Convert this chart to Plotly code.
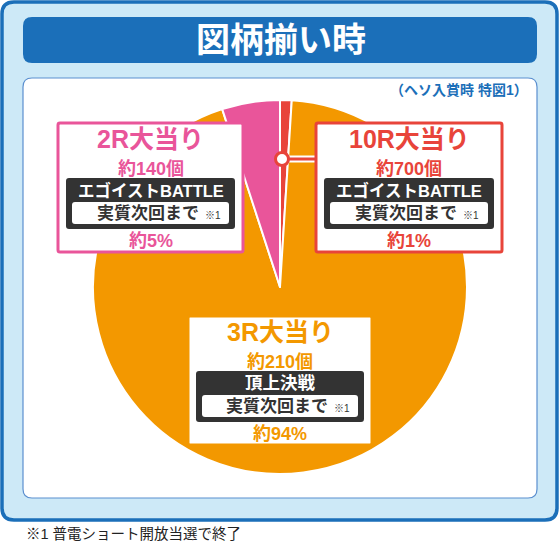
import plotly.graph_objects as go

# ---- data ----
labels = ["10R大当り", "3R大当り", "2R大当り"]
values = [1, 94, 5]
colors = ["#e8443a", "#f39800", "#e9559a"]

W, H = 560, 543
FONT = "Liberation Sans, Noto Sans CJK JP"

def px(x):
    return x / W

def py(y):
    return 1 - y / H

def rrect(x0, y0, x1, y1, r):
    pts = [
        ("M", [(x0 + r, y0)]),
        ("L", [(x1 - r, y0)]),
        ("Q", [(x1, y0), (x1, y0 + r)]),
        ("L", [(x1, y1 - r)]),
        ("Q", [(x1, y1), (x1 - r, y1)]),
        ("L", [(x0 + r, y1)]),
        ("Q", [(x0, y1), (x0, y1 - r)]),
        ("L", [(x0, y0 + r)]),
        ("Q", [(x0, y0), (x0 + r, y0)]),
    ]
    s = ""
    for cmd, ps in pts:
        s += cmd + " " + " ".join(f"{px(a):.5f},{py(b):.5f}" for a, b in ps) + " "
    return s + "Z"

shapes = []
annotations = []

def add_rrect(x0, y0, x1, y1, r, fill, line=None, lw=0, layer="above"):
    shapes.append(dict(type="path", path=rrect(x0, y0, x1, y1, r), xref="paper", yref="paper",
                       fillcolor=fill, line=dict(color=line or fill, width=lw), layer=layer))

def text(x, y, t, size, color, xanchor="center", bold=True):
    annotations.append(dict(x=px(x), y=py(y), xref="paper", yref="paper", text=t,
                            showarrow=False, xanchor=xanchor, yanchor="middle",
                            font=dict(family=FONT, size=size, color=color,
                                      weight="bold" if bold else "normal")))

# background frame
add_rrect(2, 2, 557, 520, 12, "#cde9f7", "#1b6fb9", 3.5, layer="below")
# title bar
add_rrect(23, 17, 537, 63, 9, "#1b6fb9", layer="below")
text(281, 40, "図柄揃い時", 34, "#ffffff")
# white card
add_rrect(23, 78, 537, 498, 9, "#ffffff", "#5b8fcf", 1.2, layer="below")
text(530, 90, "（ヘソ入賞時 特図1）", 14, "#1b6fb9", xanchor="right")
# footnote
text(24, 534, "※1 普電ショート開放当選で終了", 14.5, "#222222", xanchor="left", bold=False)

# pie
cx, cy, R = 280, 287, 187
fig = go.Figure(go.Pie(
    labels=labels, values=values, sort=False, direction="clockwise", rotation=0,
    marker=dict(colors=colors, line=dict(color="#ffffff", width=2)),
    textinfo="none", hoverinfo="label+percent", showlegend=False,
    domain=dict(x=[px(cx - R), px(cx + R)], y=[py(cy + R), py(cy - R)]),
))

# connector for 10R
shapes.append(dict(type="line", xref="paper", yref="paper", x0=px(282), y0=py(159), x1=px(318), y1=py(159),
                   line=dict(color="#ffffff", width=7), layer="above"))
shapes.append(dict(type="line", xref="paper", yref="paper", x0=px(282), y0=py(159), x1=px(318), y1=py(159),
                   line=dict(color=colors[0], width=3), layer="above"))
shapes.append(dict(type="circle", xref="paper", yref="paper", x0=px(275.5), y0=py(152.5), x1=px(288.5), y1=py(165.5),
                   fillcolor="#ffffff", line=dict(color=colors[0], width=3), layer="above"))

def info_box(x0, y0, x1, y1, color, title, count, mode, pct, mode_size):
    cxb = (x0 + x1) / 2
    add_rrect(x0, y0, x1, y1, 2, "#ffffff", color, 3)
    text(cxb, y0 + 16, title, 25, color)
    text(cxb, y0 + 46, count, 18, color)
    add_rrect(x0 + 8, y0 + 55, x1 - 8, y0 + 106, 3, "#333333")
    text(cxb, y0 + 67, mode, mode_size, "#ffffff")
    add_rrect(x0 + 14, y0 + 79, x1 - 14, y0 + 101, 3, "#ffffff")
    text(cxb - 3, y0 + 90, "実質次回まで", 17, "#333333")
    text(cxb + 62, y0 + 92, "※1", 10, "#333333", xanchor="center", bold=False)
    text(cxb, y0 + 118, pct, 18, color)

info_box(58, 123, 243, 252, colors[2], "2R大当り", "約140個", "エゴイストBATTLE", "約5%", 16.5)
info_box(316, 123, 502, 252, colors[0], "10R大当り", "約700個", "エゴイストBATTLE", "約1%", 16.5)
info_box(188, 316, 372, 445, colors[1], "3R大当り", "約210個", "頂上決戦", "約94%", 17.5)

fig.update_layout(
    width=W, height=H, margin=dict(l=0, r=0, t=0, b=0),
    paper_bgcolor="#ffffff", plot_bgcolor="#ffffff",
    shapes=shapes, annotations=annotations,
)
fig.write_html("out.html")
